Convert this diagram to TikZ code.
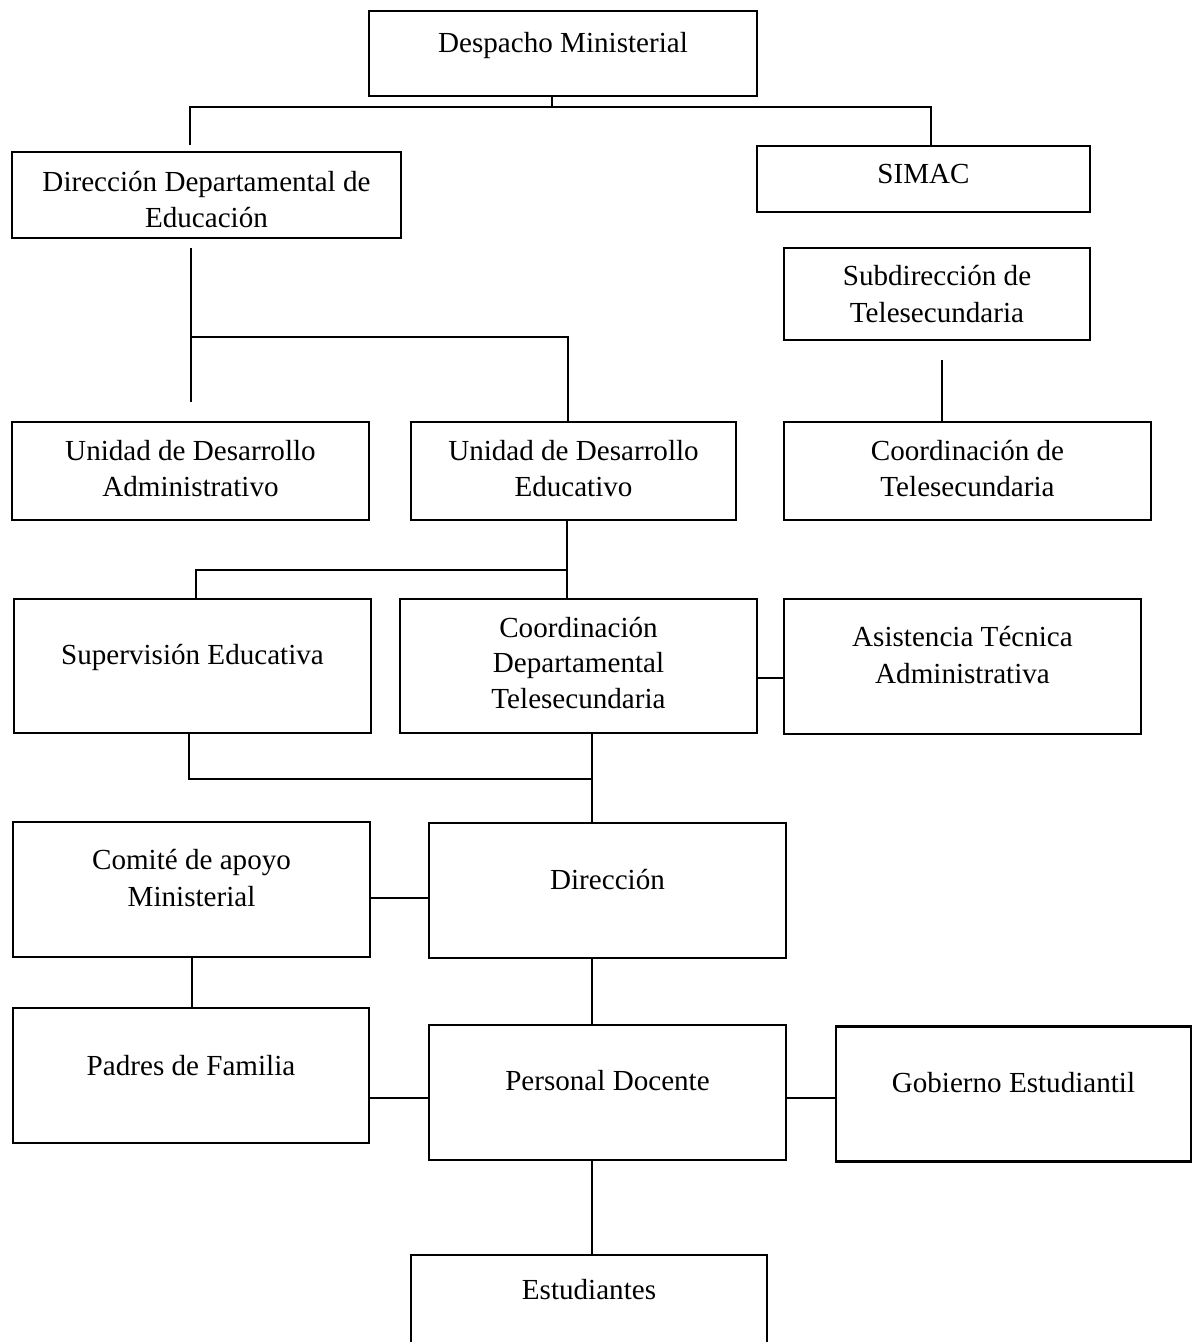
\documentclass[tikz,border=0pt]{standalone}
\usepackage{fontspec}
\setmainfont{Liberation Serif}
\begin{document}
\begin{tikzpicture}[x=1pt,y=-1pt,
  box/.style={draw, line width=2.8pt, inner sep=0pt},
  txt/.style={anchor=base, inner sep=0pt, font=\fontsize{29.1pt}{36pt}\selectfont},
  thinline/.style={line width=1.1pt},
  thickline/.style={line width=2pt}]
\useasboundingbox (0,0) rectangle (1193,1342);
\clip (0,0) rectangle (1193,1342);
% boxes
\node[box, minimum width=388pt, minimum height=85pt] (dm) at (563,53.5) {};
\node[box, minimum width=389pt, minimum height=86pt] (dde) at (206.5,195) {};
\node[box, minimum width=333pt, minimum height=66pt] (simac) at (923.5,179) {};
\node[box, minimum width=306pt, minimum height=92pt] (sub) at (937,294) {};
\node[box, minimum width=357pt, minimum height=98pt] (uda) at (190.5,471) {};
\node[box, minimum width=325pt, minimum height=98pt] (ude) at (573.5,471) {};
\node[box, minimum width=367pt, minimum height=98pt] (ct) at (967.5,471) {};
\node[box, minimum width=357pt, minimum height=134pt] (sup) at (192.5,666) {};
\node[box, minimum width=357pt, minimum height=134pt] (cdt) at (578.5,666) {};
\node[box, minimum width=357pt, minimum height=135pt] (ata) at (962.5,666.5) {};
\node[box, minimum width=357pt, minimum height=135pt] (com) at (191.5,889.5) {};
\node[box, minimum width=357pt, minimum height=135pt] (dir) at (607.5,890.5) {};
\node[box, minimum width=356pt, minimum height=135pt] (pad) at (191,1075.5) {};
\node[box, minimum width=357pt, minimum height=135pt] (pd) at (607.5,1092.5) {};
\node[box, minimum width=355pt, minimum height=135pt] (gob) at (1013.5,1094) {};
\node[box, minimum width=356pt, minimum height=135pt] (est) at (589,1322.5) {};
% texts
\node[txt] (dm-t) at (563,52) {Despacho Ministerial};
\node[txt] (dde-t1) at (206.5,191) {Dirección Departamental de};
\node[txt] (dde-t2) at (206.5,227) {Educación};
\node[txt] (simac-t) at (923.5,183) {SIMAC};
\node[txt] (sub-t1) at (937,285) {Subdirección de};
\node[txt] (sub-t2) at (937,322) {Telesecundaria};
\node[txt] (uda-t1) at (190.5,460) {Unidad de Desarrollo};
\node[txt] (uda-t2) at (190.5,496) {Administrativo};
\node[txt] (ude-t1) at (573.5,460) {Unidad de Desarrollo};
\node[txt] (ude-t2) at (573.5,496) {Educativo};
\node[txt] (ct-t1) at (967.5,460) {Coordinación de};
\node[txt] (ct-t2) at (967.5,496) {Telesecundaria};
\node[txt] (sup-t) at (192.5,664) {Supervisión Educativa};
\node[txt] (cdt-t1) at (578.5,637) {Coordinación};
\node[txt] (cdt-t2) at (578.5,672) {Departamental};
\node[txt] (cdt-t3) at (578.5,708) {Telesecundaria};
\node[txt] (ata-t1) at (962.5,646) {Asistencia Técnica};
\node[txt] (ata-t2) at (962.5,683) {Administrativa};
\node[txt] (com-t1) at (191.5,869) {Comité de apoyo};
\node[txt] (com-t2) at (191.5,906) {Ministerial};
\node[txt] (dir-t) at (607.5,889) {Dirección};
\node[txt] (pad-t) at (191,1075) {Padres de Familia};
\node[txt] (pd-t) at (607.5,1090) {Personal Docente};
\node[txt] (gob-t) at (1013.5,1092) {Gobierno Estudiantil};
\node[txt] (est-t) at (589,1299) {Estudiantes};
% junction coordinates
\coordinate (j1) at (552,107);
\coordinate (j2) at (931,107);
\coordinate (e1) at (190,145);
\coordinate (e2) at (191,248);
\coordinate (e3) at (191,402);
\coordinate (j3) at (191,337);
\coordinate (j4) at (568,337);
\coordinate (e4) at (942,360);
\coordinate (j5) at (567,570);
\coordinate (j6) at (196,570);
\coordinate (h1) at (0,678);
\coordinate (j7) at (189,779);
\coordinate (j8) at (592,779);
\coordinate (h2) at (0,898);
\coordinate (v1) at (192,0);
\coordinate (h3) at (0,1098);
% connectors
\draw[thinline] (dm.south -| j1) -- (j1);
\draw[thinline] (e1) |- (j2) -- (j2 |- simac.north);
\draw[thinline] (e2) -- (e3);
\draw[thinline] (j3) -- (j4) -- (j4 |- ude.north);
\draw[thinline] (e4) -- (e4 |- ct.north);
\draw[thinline] (j5 |- ude.south) -- (j5 |- cdt.north);
\draw[thinline] (j5) -- (j6) -- (j6 |- sup.north);
\draw[thickline] (cdt.east |- h1) -- (ata.west |- h1);
\draw[thinline] (j7 |- sup.south) -- (j7) -- (j8);
\draw[thickline] (j8 |- cdt.south) -- (j8 |- dir.north);
\draw[thickline] (com.east |- h2) -- (dir.west |- h2);
\draw[thinline] (v1 |- com.south) -- (v1 |- pad.north);
\draw[thickline] (j8 |- dir.south) -- (j8 |- pd.north);
\draw[thinline] (pad.east |- h3) -- (pd.west |- h3);
\draw[thinline] (pd.east |- h3) -- (gob.west |- h3);
\draw[thickline] (j8 |- pd.south) -- (j8 |- est.north);
\end{tikzpicture}
\end{document}
